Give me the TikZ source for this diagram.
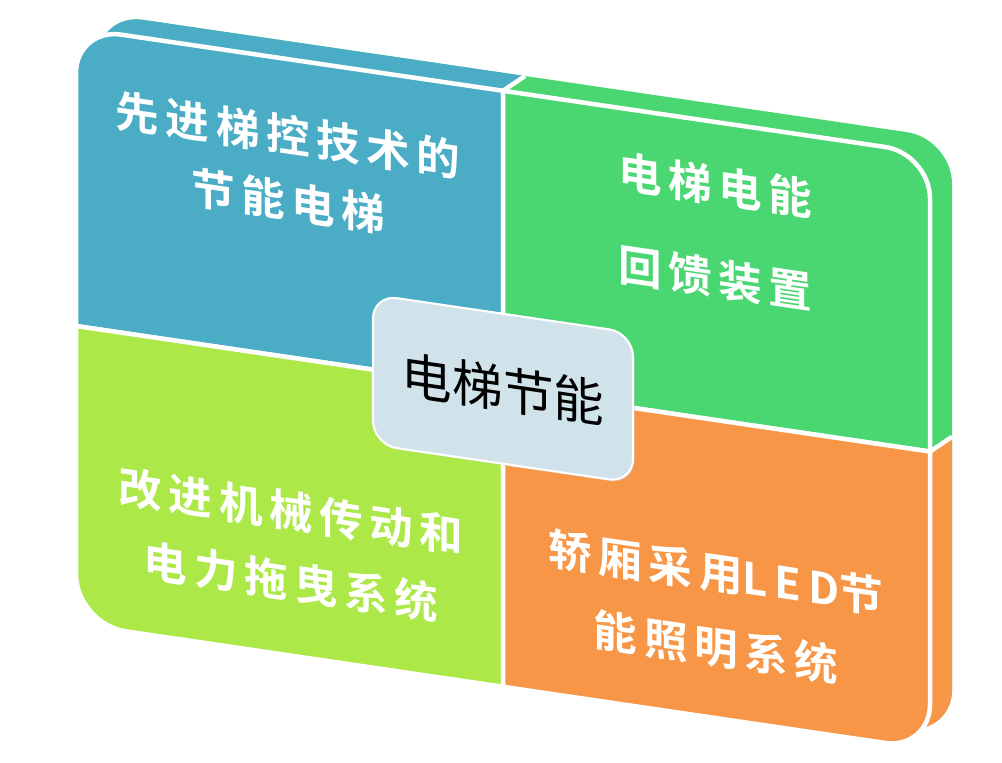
\documentclass[tikz,border=0pt]{standalone}
\usepackage{fontspec}
\usetikzlibrary{shadows}
\newfontfamily\cjkbrush[LetterSpace=15]{Noto Sans CJK SC Bold}
\newfontfamily\latinbrush[LetterSpace=16]{Noto Sans CJK SC Bold}
\newfontfamily\cjkhub{Noto Sans CJK SC}
\definecolor{tlblue}{HTML}{4BACC6}
\definecolor{trgreen}{HTML}{4AD671}
\definecolor{bllime}{HTML}{ACE847}
\definecolor{brorange}{HTML}{F79646}
\definecolor{hubfill}{HTML}{D0E2EA}
\tikzset{
  panel/.style={
    x=0.25mm, y=0.25mm,
    cell/.style={draw=white, line width=3.2pt, line join=round},
    celltext/.style={
        text=white,
        align=center,
        transform shape,
        font=\cjkbrush\fontsize{31}{47}\selectfont,
    },
    hub/.style={
        fill=hubfill,
        draw=white,
        line width=1.5pt,
        rounded corners=6mm,
        minimum width=65mm,
        minimum height=37.5mm,
        transform shape,
        drop shadow={shadow xshift=1.2pt, shadow yshift=-1.2pt, fill=gray!45},
        font=\cjkhub\fontsize{36}{40}\selectfont,
    }
  }
}

\begin{document}
\begin{tikzpicture}[panel]
  \useasboundingbox (0,0) rectangle (1002,-762);
  \begin{scope}[shift={(76,-28)}, yslant=-0.147]
    % back face, only its top and right rims show
    \fill[trgreen] (22,-533) -- (22,-27) arc[start angle=180,end angle=90,radius=45]
        -- (831,18) arc[start angle=90,end angle=0,radius=45]
        -- (876,-533) arc[start angle=0,end angle=-90,radius=45]
        -- (67,-578) arc[start angle=270,end angle=180,radius=45] -- cycle;
    \fill[tlblue] (22,-280) -- (22,-27) arc[start angle=180,end angle=90,radius=45]
        -- (449,18) -- (427,0) -- (427,-280) -- cycle;
    \fill[brorange] (854,-298) -- (876,-280) -- (876,-533) arc[start angle=0,end angle=-90,radius=45]
        -- (500,-578) -- (500,-298) -- cycle;
    \draw[cell] (427,0) -- (449,18);
    \draw[cell] (854,-298) -- (876,-280);

    % front face
    \filldraw[cell, fill=tlblue] (427,-298) -- (0,-298) -- (0,-45)
        arc[start angle=180,end angle=90,radius=45] -- (427,0) -- cycle;
    \filldraw[cell, fill=trgreen] (427,-298) -- (427,0) -- (809,0)
        arc[start angle=90,end angle=0,radius=45] -- (854,-298) -- cycle;
    \filldraw[cell, fill=bllime] (427,-298) -- (0,-298) -- (0,-546)
        arc[start angle=180,end angle=270,radius=50] -- (427,-596) -- cycle;
    \filldraw[cell, fill=brorange] (427,-298) -- (854,-298) -- (854,-551)
        arc[start angle=0,end angle=-90,radius=45] -- (427,-596) -- cycle;

    \node[celltext] (tl) at (212,-109) {先进梯控技术的\\节能电梯};
    \node[celltext, font=\cjkbrush\fontsize{31}{66}\selectfont] (tr) at (639,-110) {电梯电能\\回馈装置};
    \node[celltext, font=\cjkbrush\fontsize{31}{50}\selectfont] (bl) at (215,-487) {改进机械传动和\\电力拖曳系统};
    \node[celltext, font=\cjkbrush\fontsize{31}{53}\selectfont] (br) at (640,-488) {轿厢采用{\latinbrush LED}节\\能照明系统};

    \node[hub] (hub) at (427,-298) {电梯节能};
  \end{scope}
\end{tikzpicture}
\end{document}
